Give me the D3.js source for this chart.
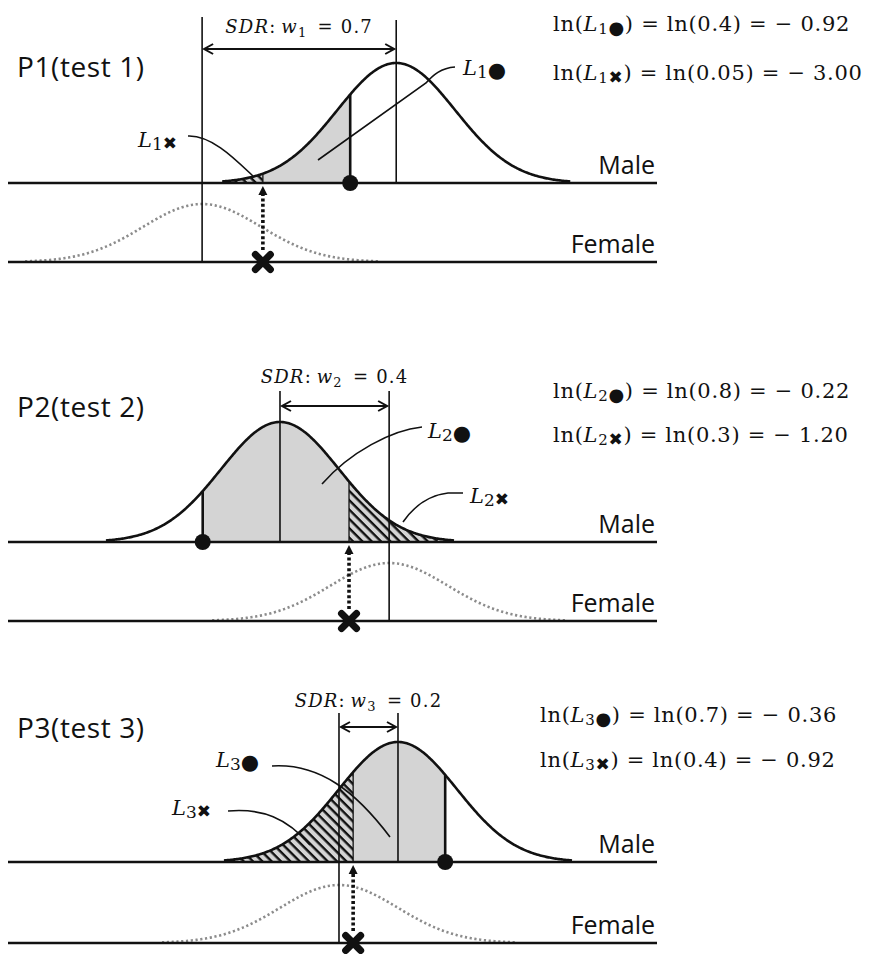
<!DOCTYPE html>
<html>
<head>
<meta charset="utf-8">
<script src="https://cdn.jsdelivr.net/npm/d3@7"></script>
<style>
  body { margin: 0; background: #fff; }
  svg { display: block; }
</style>
</head>
<body>
<svg id="chart" width="875" height="954"></svg>
<script>
// ---- data: one likelihood example per test ----
const testNames      = ["P1(test 1)", "P2(test 2)", "P3(test 3)"];
const testIds        = ["1", "2", "3"];
const maleMeans      = [6.58, 4.61, 6.61];
const maleSDs        = [1, 1, 1];
const femaleMeans    = [3.29, 6.46, 5.61];
const femaleSDs      = [1, 1, 1];
const observedDot    = [5.80, 3.30, 7.41];   // observation marked with ●
const observedCross  = [4.32, 5.78, 5.85];   // observation marked with ✖
const sdrWeights     = ["0.7", "0.4", "0.2"];
const likelihoodDot  = [0.4, 0.8, 0.7];
const likelihoodCross = [0.05, 0.3, 0.4];
const groupLabels    = ["Male", "Female"];

// ---- layout of the three stacked panels ----
const layout = [
  { male: 183, female: 262, arrow: 49,  sdrY: 33,  topF: 17,  topM: 20,  titleY: 77,  lnX: 553, lnY: [31, 80],
    lblDot: [463, 75],  leadDot: "M455,67 C441,68 433,75 426,83 L318,160",
    lblCross: [138, 147], leadCross: "M188,136 C212,135 236,160 254,177" },
  { male: 542, female: 621, arrow: 406, sdrY: 383, topF: 391, topM: 391, titleY: 417, lnX: 553, lnY: [398, 442],
    lblDot: [428, 438], leadDot: "M422,427 C392,430 350,452 322,484",
    lblCross: [470, 503], leadCross: "M463,493 L448,493 C430,495 414,506 403,522" },
  { male: 862, female: 943, arrow: 727, sdrY: 707, topF: 713, topM: 713, titleY: 738, lnX: 540, lnY: [722, 767],
    lblDot: [216, 767], leadDot: "M272,766 C320,763 356,792 390,837",
    lblCross: [172, 815], leadCross: "M228,811 C262,808 287,818 310,845" }
];

const svg = d3.select("#chart");
const serif = "'DejaVu Serif', 'Liberation Serif', serif";
const sans = "'Open Sans', 'Liberation Sans', sans-serif";
const glyph = "'DejaVu Sans', sans-serif";
const ink = "#111";
const fillGrey = "#d4d4d4";

// shared horizontal measurement scale
const x = d3.scaleLinear().domain([0, 11]).range([8, 657]);
const pdf = (v, m, s) => Math.exp(-0.5 * ((v - m) / s) ** 2) / (s * Math.sqrt(2 * Math.PI));
const peak = pdf(0, 0, 1);

// hatch pattern for the ✖ likelihood tail
const defs = svg.append("defs");
const pat = defs.append("pattern")
  .attr("id", "hatch").attr("patternUnits", "userSpaceOnUse")
  .attr("width", 6.6).attr("height", 6.6)
  .attr("patternTransform", "rotate(45)");
pat.append("rect").attr("width", 6.6).attr("height", 6.6).attr("fill", fillGrey);
pat.append("rect").attr("x", 0).attr("y", 0).attr("width", 6.6).attr("height", 2.4).attr("fill", ink);

const fmtLn = v => {
  const l = Math.log(v);
  return (l < 0 ? "\u2212 " : "") + Math.abs(l).toFixed(2);
};

testNames.forEach((name, i) => {
  const L = layout[i];
  const g = svg.append("g");
  const mM = maleMeans[i], sM = maleSDs[i];
  const mF = femaleMeans[i], sF = femaleSDs[i];
  const yM = d3.scaleLinear().domain([0, peak / sM]).range([L.male, L.male - 120]);
  const yF = d3.scaleLinear().domain([0, peak / sF]).range([L.female, L.female - 58]);

  const maleRange = d3.range(-2.95, 2.9501, 0.02).map(z => mM + z * sM);
  const femRange = d3.range(-3.0, 3.0001, 0.02).map(z => mF + z * sF);
  const areaM = d3.area().x(d => x(d)).y0(L.male).y1(d => yM(pdf(d, mM, sM)));
  const lineM = d3.line().x(d => x(d)).y(d => yM(pdf(d, mM, sM)));
  const lineF = d3.line().x(d => x(d)).y(d => yF(pdf(d, mF, sF)));

  const dot = observedDot[i], cross = observedCross[i];
  const lo = Math.min(dot, cross), hi = Math.max(dot, cross);
  const greySpan = maleRange.filter(v => v > lo && v < hi);
  greySpan.unshift(lo); greySpan.push(hi);
  let tail;
  if (cross < dot) {
    tail = maleRange.filter(v => v < cross); tail.push(cross);
  } else {
    tail = maleRange.filter(v => v > cross); tail.unshift(cross);
  }

  // shaded regions under the male curve
  g.append("path").attr("d", areaM(greySpan)).attr("fill", fillGrey);
  g.append("path").attr("d", areaM(tail)).attr("fill", "url(#hatch)");

  // female density (dotted grey)
  g.append("path").attr("d", lineF(femRange))
    .attr("fill", "none").attr("stroke", "#8c8c8c")
    .attr("stroke-width", 2.6).attr("stroke-dasharray", "2.2,2.6");

  // boundary at ✖ observation
  g.append("line")
    .attr("x1", x(cross)).attr("x2", x(cross))
    .attr("y1", L.male).attr("y2", yM(pdf(cross, mM, sM)))
    .attr("stroke", ink).attr("stroke-width", 1.3);

  // mean lines
  g.append("line").attr("x1", x(mF)).attr("x2", x(mF)).attr("y1", L.topF).attr("y2", L.female)
    .attr("stroke", ink).attr("stroke-width", 1.6);
  g.append("line").attr("x1", x(mM)).attr("x2", x(mM)).attr("y1", L.topM).attr("y2", L.male)
    .attr("stroke", ink).attr("stroke-width", 1.6);

  // male density
  g.append("path").attr("d", lineM(maleRange))
    .attr("fill", "none").attr("stroke", ink).attr("stroke-width", 2.6);

  // baselines
  [L.male, L.female].forEach(yb => {
    g.append("line").attr("x1", x(0)).attr("x2", x(11)).attr("y1", yb).attr("y2", yb)
      .attr("stroke", ink).attr("stroke-width", 2.6);
  });

  // ● observation with drop line
  g.append("line")
    .attr("x1", x(dot)).attr("x2", x(dot))
    .attr("y1", L.male).attr("y2", yM(pdf(dot, mM, sM)))
    .attr("stroke", ink).attr("stroke-width", 2.6);
  g.append("circle").attr("cx", x(dot)).attr("cy", L.male).attr("r", 8).attr("fill", ink);

  // ✖ observation with dotted arrow up to the male axis
  const cx = x(cross);
  g.append("line").attr("x1", cx).attr("x2", cx)
    .attr("y1", L.female - 12).attr("y2", L.male + 11)
    .attr("stroke", ink).attr("stroke-width", 3.6).attr("stroke-dasharray", "3,2.4");
  g.append("path")
    .attr("d", `M${cx},${L.male + 3} L${cx - 4.5},${L.male + 12} L${cx + 4.5},${L.male + 12} Z`)
    .attr("fill", ink);
  const xs = 7.5;
  g.append("path")
    .attr("d", `M${cx - xs},${L.female - xs} L${cx + xs},${L.female + xs} M${cx + xs},${L.female - xs} L${cx - xs},${L.female + xs}`)
    .attr("stroke", ink).attr("stroke-width", 7).attr("stroke-linecap", "round").attr("fill", "none");

  // SDR double arrow between the two means
  const a1 = Math.min(x(mF), x(mM)) + 2, a2 = Math.max(x(mF), x(mM)) - 2, ay = L.arrow;
  g.append("line").attr("x1", a1).attr("x2", a2).attr("y1", ay).attr("y2", ay)
    .attr("stroke", ink).attr("stroke-width", 2);
  g.append("path")
    .attr("d", `M${a1 + 9},${ay - 5} L${a1},${ay} L${a1 + 9},${ay + 5} M${a2 - 9},${ay - 5} L${a2},${ay} L${a2 - 9},${ay + 5}`)
    .attr("fill", "none").attr("stroke", ink).attr("stroke-width", 2);

  const sdr = g.append("text")
    .attr("x", (a1 + a2) / 2).attr("y", L.sdrY)
    .attr("text-anchor", "middle")
    .attr("font-family", serif).attr("font-size", 18).attr("letter-spacing", 1.2).attr("fill", ink);
  sdr.append("tspan").attr("font-style", "italic").text("SDR");
  sdr.append("tspan").text(":\u2009");
  sdr.append("tspan").attr("font-style", "italic").text("w");
  sdr.append("tspan").attr("font-size", 13).attr("dy", 4).text(testIds[i]);
  sdr.append("tspan").attr("dy", -4).text("\u2002= " + sdrWeights[i]);

  // panel title
  g.append("text").attr("x", 17).attr("y", L.titleY)
    .attr("font-family", sans).attr("font-size", 28).attr("letter-spacing", 0.6).attr("fill", ink)
    .text(name);

  // group labels
  g.append("text").attr("x", 655).attr("y", L.male - 9)
    .attr("text-anchor", "end").attr("font-family", sans).attr("font-size", 25).attr("fill", ink)
    .text(groupLabels[0]);
  g.append("text").attr("x", 655).attr("y", L.female - 9)
    .attr("text-anchor", "end").attr("font-family", sans).attr("font-size", 25).attr("fill", ink)
    .text(groupLabels[1]);

  // leader labels
  const symLabel = (pos, sym, symSize) => {
    const t = g.append("text").attr("x", pos[0]).attr("y", pos[1])
      .attr("font-family", serif).attr("font-size", 21).attr("fill", ink);
    t.append("tspan").attr("font-style", "italic").text("L");
    t.append("tspan").attr("font-size", 17).attr("dy", 3).text(testIds[i]);
    t.append("tspan").attr("font-family", glyph).attr("font-size", symSize).attr("dy", -1).text(sym);
  };
  symLabel(L.lblDot, "\u25CF", 21);
  symLabel(L.lblCross, "\u2716", 17);
  g.append("path").attr("d", L.leadDot).attr("fill", "none").attr("stroke", ink).attr("stroke-width", 1.6);
  g.append("path").attr("d", L.leadCross).attr("fill", "none").attr("stroke", ink).attr("stroke-width", 1.6);

  // log-likelihood equations
  const lnLine = (y, sym, symSize, v) => {
    const t = g.append("text").attr("x", L.lnX).attr("y", y)
      .attr("font-family", serif).attr("font-size", 21).attr("letter-spacing", 0.7).attr("fill", ink);
    t.append("tspan").text("ln(");
    t.append("tspan").attr("font-style", "italic").text("L");
    t.append("tspan").attr("font-size", 15).attr("dy", 3).text(testIds[i]);
    t.append("tspan").attr("font-family", glyph).attr("font-size", symSize).text(sym);
    t.append("tspan").attr("dy", -3).text(") = ln(" + String(v) + ") = " + fmtLn(v));
  };
  lnLine(L.lnY[0], "\u25CF", 18, likelihoodDot[i]);
  lnLine(L.lnY[1], "\u2716", 17, likelihoodCross[i]);
});
</script>
</body>
</html>
